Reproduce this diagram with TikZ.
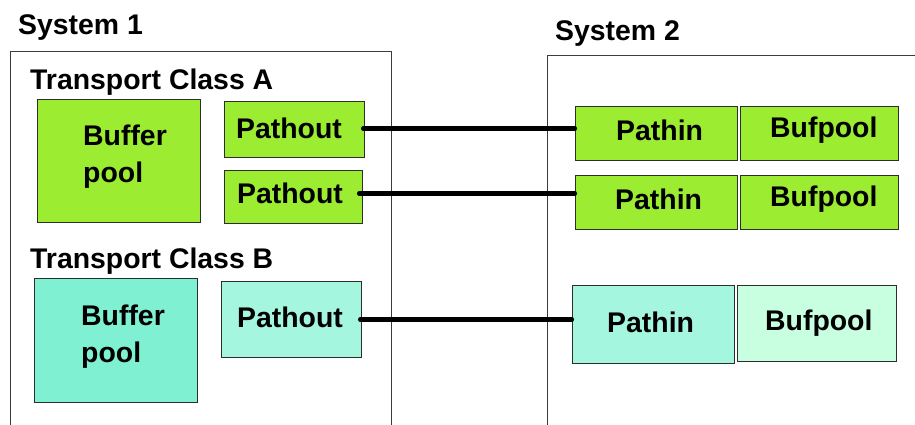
\documentclass[tikz,border=0pt]{standalone}
\usepackage{fontspec}
\setmainfont{Liberation Sans}
\definecolor{limeA}{RGB}{156,236,50}
\definecolor{aquaD}{RGB}{128,240,210}
\definecolor{aquaM}{RGB}{165,246,222}
\definecolor{aquaL}{RGB}{200,255,225}
\definecolor{edge}{RGB}{45,45,45}
\definecolor{frame}{RGB}{60,60,60}
\begin{document}
\begin{tikzpicture}[x=1pt,y=-1pt,
  box/.style={draw=edge,line width=1.1pt,rectangle,inner sep=0pt,anchor=north west},
  lbl/.style={inner sep=0pt,anchor=base west,font=\fontsize{28.4}{34}\selectfont\bfseries},
  conn/.style={line width=4.2pt,line cap=round,black},
  sysframe/.style={draw=frame,line width=1pt}]
\useasboundingbox (0,0) rectangle (915,425);

% system frames
\draw[sysframe] (10,426) -- (10,52) -- (391,52) -- (391,426);
\draw[sysframe] (547,426) -- (547,56) -- (916,56);
\node[lbl] (s1) at (18,35) {System 1};
\node[lbl] (s2) at (555,41) {System 2};
\node[lbl] (tca) at (30,90) {Transport Class A};
\node[lbl] (tcb) at (30,268) {Transport Class B};

% System 1 boxes
\node[box,fill=limeA,minimum width=163pt,minimum height=123pt] (bpA) at (37,99) {};
\node[box,fill=limeA,minimum width=140pt,minimum height=56pt] (poA1) at (224,101) {};
\node[box,fill=limeA,minimum width=138pt,minimum height=53pt] (poA2) at (224,170) {};
\node[box,fill=aquaD,minimum width=163pt,minimum height=124pt] (bpB) at (34,278) {};
\node[box,fill=aquaM,minimum width=140pt,minimum height=76pt] (poB) at (221,281) {};

% System 2 boxes
\node[box,fill=limeA,minimum width=162pt,minimum height=54pt] (piA1) at (575,106) {};
\node[box,fill=limeA,minimum width=158pt,minimum height=54pt] (bfA1) at (740,106) {};
\node[box,fill=limeA,minimum width=162pt,minimum height=54pt] (piA2) at (575,175) {};
\node[box,fill=limeA,minimum width=158pt,minimum height=54pt] (bfA2) at (740,175) {};
\node[box,fill=aquaM,minimum width=162pt,minimum height=78pt] (piB) at (572,285) {};
\node[box,fill=aquaL,minimum width=159pt,minimum height=76pt] (bfB) at (737,285) {};

% texts
\node[lbl] (tbA1) at (83,146) {Buffer};
\node[lbl] (tbA2) at (83,182) {pool};
\node[lbl] (tbB1) at (81,325) {Buffer};
\node[lbl] (tbB2) at (81,362) {pool};
\node[lbl] (tpoA1) at (236,139) {Pathout};
\node[lbl] (tpoA2) at (237,203) {Pathout};
\node[lbl] (tpoB) at (237,327) {Pathout};
\node[lbl] (tpiA1) at (616,140) {Pathin};
\node[lbl] (tpiA2) at (615,209) {Pathin};
\node[lbl] (tpiB) at (607,332) {Pathin};
\node[lbl] (tbfA1) at (770,138) {Bufpool};
\node[lbl] (tbfA2) at (770,206) {Bufpool};
\node[lbl] (tbfB) at (765,330) {Bufpool};

% connectors
\draw[conn] ([xshift=-2pt,yshift=1pt]poA1.east) -- ([yshift=1pt]poA1.east -| piA1.west);
\draw[conn] ([xshift=-4pt,yshift=3.5pt]poA2.east) -- ([yshift=3.5pt]poA2.east -| piA2.west);
\draw[conn] ([xshift=-2pt]poB.east) -- (poB.east -| piB.west);
\end{tikzpicture}
\end{document}
